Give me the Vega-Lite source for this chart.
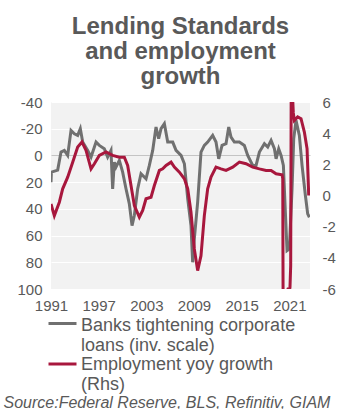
{
  "$schema": "https://vega.github.io/schema/vega-lite/v6.json",
  "width": 259,
  "height": 187,
  "autosize": {"type": "none"},
  "padding": {"left": 51, "top": 102, "right": 30, "bottom": 120},
  "background": "white",
  "config": {
    "view": {"fill": "#f2f2f2", "stroke": null},
    "font": "Liberation Sans",
    "legend": {
      "orient": "none",
      "legendX": -4,
      "title": null,
      "padding": 0,
      "symbolType": "stroke",
      "symbolSize": 784,
      "symbolStrokeWidth": 3,
      "labelFontSize": 18,
      "labelColor": "#595959",
      "labelLimit": 300,
      "labelOffset": 3
    }
  },
  "title": {
    "text": ["Lending Standards", "and employment", "growth"],
    "fontSize": 24,
    "font": "Liberation Sans",
    "fontWeight": "bold",
    "color": "#595959",
    "lineHeight": 25,
    "anchor": "middle",
    "offset": 6
  },
  "datasets": {
    "banks": [
      {"year": 1991.0, "value": 20, "series": "Banks tightening corporate loans (inv. scale)"},
      {"year": 1991.05, "value": 12.5, "series": "Banks tightening corporate loans (inv. scale)"},
      {"year": 1991.84, "value": 11, "series": "Banks tightening corporate loans (inv. scale)"},
      {"year": 1992.26, "value": -2.5, "series": "Banks tightening corporate loans (inv. scale)"},
      {"year": 1992.68, "value": -3.75, "series": "Banks tightening corporate loans (inv. scale)"},
      {"year": 1993.1, "value": 0, "series": "Banks tightening corporate loans (inv. scale)"},
      {"year": 1993.52, "value": -18.75, "series": "Banks tightening corporate loans (inv. scale)"},
      {"year": 1993.94, "value": -16.25, "series": "Banks tightening corporate loans (inv. scale)"},
      {"year": 1994.36, "value": -15, "series": "Banks tightening corporate loans (inv. scale)"},
      {"year": 1994.69, "value": -20, "series": "Banks tightening corporate loans (inv. scale)"},
      {"year": 1994.99, "value": -10, "series": "Banks tightening corporate loans (inv. scale)"},
      {"year": 1995.62, "value": -3.75, "series": "Banks tightening corporate loans (inv. scale)"},
      {"year": 1996.04, "value": 1.25, "series": "Banks tightening corporate loans (inv. scale)"},
      {"year": 1996.67, "value": -10, "series": "Banks tightening corporate loans (inv. scale)"},
      {"year": 1997.08, "value": -7.5, "series": "Banks tightening corporate loans (inv. scale)"},
      {"year": 1997.71, "value": -5, "series": "Banks tightening corporate loans (inv. scale)"},
      {"year": 1998.13, "value": 1.25, "series": "Banks tightening corporate loans (inv. scale)"},
      {"year": 1998.55, "value": -3.75, "series": "Banks tightening corporate loans (inv. scale)"},
      {"year": 1998.76, "value": 25, "series": "Banks tightening corporate loans (inv. scale)"},
      {"year": 1998.97, "value": 5, "series": "Banks tightening corporate loans (inv. scale)"},
      {"year": 1999.18, "value": 8.75, "series": "Banks tightening corporate loans (inv. scale)"},
      {"year": 1999.6, "value": 3.75, "series": "Banks tightening corporate loans (inv. scale)"},
      {"year": 2000.02, "value": 12.5, "series": "Banks tightening corporate loans (inv. scale)"},
      {"year": 2000.44, "value": 25, "series": "Banks tightening corporate loans (inv. scale)"},
      {"year": 2000.86, "value": 36.25, "series": "Banks tightening corporate loans (inv. scale)"},
      {"year": 2001.2, "value": 52.5, "series": "Banks tightening corporate loans (inv. scale)"},
      {"year": 2001.49, "value": 45, "series": "Banks tightening corporate loans (inv. scale)"},
      {"year": 2001.91, "value": 25, "series": "Banks tightening corporate loans (inv. scale)"},
      {"year": 2002.33, "value": 13.75, "series": "Banks tightening corporate loans (inv. scale)"},
      {"year": 2002.96, "value": 17.5, "series": "Banks tightening corporate loans (inv. scale)"},
      {"year": 2003.38, "value": 7.5, "series": "Banks tightening corporate loans (inv. scale)"},
      {"year": 2003.8, "value": -3.75, "series": "Banks tightening corporate loans (inv. scale)"},
      {"year": 2004.22, "value": -21.25, "series": "Banks tightening corporate loans (inv. scale)"},
      {"year": 2004.55, "value": -12.5, "series": "Banks tightening corporate loans (inv. scale)"},
      {"year": 2004.85, "value": -20, "series": "Banks tightening corporate loans (inv. scale)"},
      {"year": 2005.27, "value": -23.75, "series": "Banks tightening corporate loans (inv. scale)"},
      {"year": 2005.69, "value": -10, "series": "Banks tightening corporate loans (inv. scale)"},
      {"year": 2006.32, "value": -10, "series": "Banks tightening corporate loans (inv. scale)"},
      {"year": 2006.74, "value": -3.75, "series": "Banks tightening corporate loans (inv. scale)"},
      {"year": 2007.37, "value": 0, "series": "Banks tightening corporate loans (inv. scale)"},
      {"year": 2007.79, "value": 6.25, "series": "Banks tightening corporate loans (inv. scale)"},
      {"year": 2008.21, "value": 32.5, "series": "Banks tightening corporate loans (inv. scale)"},
      {"year": 2008.62, "value": 52.5, "series": "Banks tightening corporate loans (inv. scale)"},
      {"year": 2008.83, "value": 80, "series": "Banks tightening corporate loans (inv. scale)"},
      {"year": 2009.04, "value": 62.5, "series": "Banks tightening corporate loans (inv. scale)"},
      {"year": 2009.46, "value": 35, "series": "Banks tightening corporate loans (inv. scale)"},
      {"year": 2009.88, "value": -2.5, "series": "Banks tightening corporate loans (inv. scale)"},
      {"year": 2010.3, "value": -7.5, "series": "Banks tightening corporate loans (inv. scale)"},
      {"year": 2010.72, "value": -10, "series": "Banks tightening corporate loans (inv. scale)"},
      {"year": 2011.35, "value": -15, "series": "Banks tightening corporate loans (inv. scale)"},
      {"year": 2011.77, "value": -10, "series": "Banks tightening corporate loans (inv. scale)"},
      {"year": 2012.11, "value": 2.5, "series": "Banks tightening corporate loans (inv. scale)"},
      {"year": 2012.53, "value": -7.5, "series": "Banks tightening corporate loans (inv. scale)"},
      {"year": 2013.03, "value": -8.75, "series": "Banks tightening corporate loans (inv. scale)"},
      {"year": 2013.37, "value": -21.25, "series": "Banks tightening corporate loans (inv. scale)"},
      {"year": 2013.66, "value": -13.75, "series": "Banks tightening corporate loans (inv. scale)"},
      {"year": 2014.08, "value": -10, "series": "Banks tightening corporate loans (inv. scale)"},
      {"year": 2014.71, "value": -10, "series": "Banks tightening corporate loans (inv. scale)"},
      {"year": 2015.34, "value": -7.5, "series": "Banks tightening corporate loans (inv. scale)"},
      {"year": 2015.76, "value": 0, "series": "Banks tightening corporate loans (inv. scale)"},
      {"year": 2016.39, "value": 7.5, "series": "Banks tightening corporate loans (inv. scale)"},
      {"year": 2016.81, "value": 7.5, "series": "Banks tightening corporate loans (inv. scale)"},
      {"year": 2017.23, "value": -2.5, "series": "Banks tightening corporate loans (inv. scale)"},
      {"year": 2017.86, "value": -8.75, "series": "Banks tightening corporate loans (inv. scale)"},
      {"year": 2018.28, "value": -6.25, "series": "Banks tightening corporate loans (inv. scale)"},
      {"year": 2018.7, "value": -11.25, "series": "Banks tightening corporate loans (inv. scale)"},
      {"year": 2019.12, "value": -5, "series": "Banks tightening corporate loans (inv. scale)"},
      {"year": 2019.33, "value": 2.5, "series": "Banks tightening corporate loans (inv. scale)"},
      {"year": 2019.66, "value": -5, "series": "Banks tightening corporate loans (inv. scale)"},
      {"year": 2019.96, "value": 0, "series": "Banks tightening corporate loans (inv. scale)"},
      {"year": 2020.25, "value": 7.5, "series": "Banks tightening corporate loans (inv. scale)"},
      {"year": 2020.5, "value": 42.5, "series": "Banks tightening corporate loans (inv. scale)"},
      {"year": 2020.71, "value": 71.25, "series": "Banks tightening corporate loans (inv. scale)"},
      {"year": 2021.0, "value": 70, "series": "Banks tightening corporate loans (inv. scale)"},
      {"year": 2021.34, "value": 25, "series": "Banks tightening corporate loans (inv. scale)"},
      {"year": 2021.55, "value": -12.5, "series": "Banks tightening corporate loans (inv. scale)"},
      {"year": 2021.84, "value": -26.25, "series": "Banks tightening corporate loans (inv. scale)"},
      {"year": 2022.26, "value": -15, "series": "Banks tightening corporate loans (inv. scale)"},
      {"year": 2022.6, "value": 7.5, "series": "Banks tightening corporate loans (inv. scale)"},
      {"year": 2023.02, "value": 30, "series": "Banks tightening corporate loans (inv. scale)"},
      {"year": 2023.31, "value": 43.75, "series": "Banks tightening corporate loans (inv. scale)"},
      {"year": 2023.52, "value": 46.25, "series": "Banks tightening corporate loans (inv. scale)"}
    ],
    "emp": [
      {"year": 1991.0, "value": -0.54, "series": "Employment yoy growth (Rhs)"},
      {"year": 1991.42, "value": -1.29, "series": "Employment yoy growth (Rhs)"},
      {"year": 1992.05, "value": -0.43, "series": "Employment yoy growth (Rhs)"},
      {"year": 1992.47, "value": 0.43, "series": "Employment yoy growth (Rhs)"},
      {"year": 1993.1, "value": 1.18, "series": "Employment yoy growth (Rhs)"},
      {"year": 1993.73, "value": 2.14, "series": "Employment yoy growth (Rhs)"},
      {"year": 1994.36, "value": 3.11, "series": "Employment yoy growth (Rhs)"},
      {"year": 1994.9, "value": 3.43, "series": "Employment yoy growth (Rhs)"},
      {"year": 1995.41, "value": 2.89, "series": "Employment yoy growth (Rhs)"},
      {"year": 1996.04, "value": 1.71, "series": "Employment yoy growth (Rhs)"},
      {"year": 1996.46, "value": 2.04, "series": "Employment yoy growth (Rhs)"},
      {"year": 1997.08, "value": 2.57, "series": "Employment yoy growth (Rhs)"},
      {"year": 1997.92, "value": 2.79, "series": "Employment yoy growth (Rhs)"},
      {"year": 1998.76, "value": 2.57, "series": "Employment yoy growth (Rhs)"},
      {"year": 1999.6, "value": 2.46, "series": "Employment yoy growth (Rhs)"},
      {"year": 2000.23, "value": 2.46, "series": "Employment yoy growth (Rhs)"},
      {"year": 2000.65, "value": 1.93, "series": "Employment yoy growth (Rhs)"},
      {"year": 2001.07, "value": 0.64, "series": "Employment yoy growth (Rhs)"},
      {"year": 2001.49, "value": -0.64, "series": "Employment yoy growth (Rhs)"},
      {"year": 2002.12, "value": -1.39, "series": "Employment yoy growth (Rhs)"},
      {"year": 2002.54, "value": -0.96, "series": "Employment yoy growth (Rhs)"},
      {"year": 2002.96, "value": -0.21, "series": "Employment yoy growth (Rhs)"},
      {"year": 2003.59, "value": -0.11, "series": "Employment yoy growth (Rhs)"},
      {"year": 2004.01, "value": 0.64, "series": "Employment yoy growth (Rhs)"},
      {"year": 2004.64, "value": 1.61, "series": "Employment yoy growth (Rhs)"},
      {"year": 2005.06, "value": 1.71, "series": "Employment yoy growth (Rhs)"},
      {"year": 2005.48, "value": 1.93, "series": "Employment yoy growth (Rhs)"},
      {"year": 2006.11, "value": 2.14, "series": "Employment yoy growth (Rhs)"},
      {"year": 2006.53, "value": 1.82, "series": "Employment yoy growth (Rhs)"},
      {"year": 2007.16, "value": 1.5, "series": "Employment yoy growth (Rhs)"},
      {"year": 2007.79, "value": 1.07, "series": "Employment yoy growth (Rhs)"},
      {"year": 2008.21, "value": 0.43, "series": "Employment yoy growth (Rhs)"},
      {"year": 2008.62, "value": -1.07, "series": "Employment yoy growth (Rhs)"},
      {"year": 2009.04, "value": -3.43, "series": "Employment yoy growth (Rhs)"},
      {"year": 2009.46, "value": -4.82, "series": "Employment yoy growth (Rhs)"},
      {"year": 2009.88, "value": -3.86, "series": "Employment yoy growth (Rhs)"},
      {"year": 2010.3, "value": -1.29, "series": "Employment yoy growth (Rhs)"},
      {"year": 2010.72, "value": 0.43, "series": "Employment yoy growth (Rhs)"},
      {"year": 2011.14, "value": 1.18, "series": "Employment yoy growth (Rhs)"},
      {"year": 2011.77, "value": 1.82, "series": "Employment yoy growth (Rhs)"},
      {"year": 2012.4, "value": 1.71, "series": "Employment yoy growth (Rhs)"},
      {"year": 2013.03, "value": 1.61, "series": "Employment yoy growth (Rhs)"},
      {"year": 2013.87, "value": 1.82, "series": "Employment yoy growth (Rhs)"},
      {"year": 2014.71, "value": 2.14, "series": "Employment yoy growth (Rhs)"},
      {"year": 2015.55, "value": 2.04, "series": "Employment yoy growth (Rhs)"},
      {"year": 2016.39, "value": 1.82, "series": "Employment yoy growth (Rhs)"},
      {"year": 2017.23, "value": 1.71, "series": "Employment yoy growth (Rhs)"},
      {"year": 2018.07, "value": 1.61, "series": "Employment yoy growth (Rhs)"},
      {"year": 2018.7, "value": 1.61, "series": "Employment yoy growth (Rhs)"},
      {"year": 2019.33, "value": 1.39, "series": "Employment yoy growth (Rhs)"},
      {"year": 2020.08, "value": 1.33, "series": "Employment yoy growth (Rhs)"},
      {"year": 2020.17, "value": 1.1, "series": "Employment yoy growth (Rhs)"},
      {"year": 2020.25, "value": -13.0, "series": "Employment yoy growth (Rhs)"},
      {"year": 2020.33, "value": -11.8, "series": "Employment yoy growth (Rhs)"},
      {"year": 2020.42, "value": -9.4, "series": "Employment yoy growth (Rhs)"},
      {"year": 2020.5, "value": -8.0, "series": "Employment yoy growth (Rhs)"},
      {"year": 2020.58, "value": -7.0, "series": "Employment yoy growth (Rhs)"},
      {"year": 2020.67, "value": -6.4, "series": "Employment yoy growth (Rhs)"},
      {"year": 2020.75, "value": -6.1, "series": "Employment yoy growth (Rhs)"},
      {"year": 2020.83, "value": -6.0, "series": "Employment yoy growth (Rhs)"},
      {"year": 2020.92, "value": -6.0, "series": "Employment yoy growth (Rhs)"},
      {"year": 2021.0, "value": -6.1, "series": "Employment yoy growth (Rhs)"},
      {"year": 2021.08, "value": -5.9, "series": "Employment yoy growth (Rhs)"},
      {"year": 2021.17, "value": -4.5, "series": "Employment yoy growth (Rhs)"},
      {"year": 2021.25, "value": 10.0, "series": "Employment yoy growth (Rhs)"},
      {"year": 2021.33, "value": 9.0, "series": "Employment yoy growth (Rhs)"},
      {"year": 2021.42, "value": 6.2, "series": "Employment yoy growth (Rhs)"},
      {"year": 2021.5, "value": 5.3, "series": "Employment yoy growth (Rhs)"},
      {"year": 2021.63, "value": 4.82, "series": "Employment yoy growth (Rhs)"},
      {"year": 2022.05, "value": 5.04, "series": "Employment yoy growth (Rhs)"},
      {"year": 2022.47, "value": 4.93, "series": "Employment yoy growth (Rhs)"},
      {"year": 2022.89, "value": 4.07, "series": "Employment yoy growth (Rhs)"},
      {"year": 2023.23, "value": 3.0, "series": "Employment yoy growth (Rhs)"},
      {"year": 2023.44, "value": 0.0, "series": "Employment yoy growth (Rhs)"}
    ]
  },
  "encoding": {
    "x": {
      "field": "year",
      "type": "quantitative",
      "scale": {"domain": [1991, 2023.6], "nice": false, "zero": false},
      "axis": {
        "values": [1991, 1997, 2003, 2009, 2015, 2021],
        "format": "d",
        "grid": false,
        "ticks": false,
        "domain": false,
        "labelFontSize": 15,
        "labelColor": "#595959",
        "labelPadding": 9,
        "labelFlush": false,
        "title": "Source:Federal Reserve, BLS, Refinitiv, GIAM",
        "titleFontStyle": "italic",
        "titleFontWeight": "normal",
        "titleFontSize": 16,
        "titleColor": "#595959",
        "titleAnchor": "start",
        "titleAlign": "left",
        "titleBaseline": "alphabetic",
        "titleX": -48,
        "titleY": 118
      }
    }
  },
  "layer": [
    {
      "data": {"name": "banks"},
      "mark": {"type": "line", "strokeWidth": 3, "clip": true},
      "encoding": {
        "y": {
          "field": "value",
          "type": "quantitative",
          "scale": {"domain": [-40, 100], "reverse": true, "nice": false, "zero": false},
          "axis": {
            "values": [-40, -20, 0, 20, 40, 60, 80, 100],
            "labelExpr": "'' + datum.value",
            "title": null,
            "ticks": false,
            "domain": false,
            "labelFontSize": 15,
            "labelColor": "#595959",
            "labelPadding": 9,
            "labelFlush": false,
            "gridColor": {"condition": {"test": "datum.value === 0", "value": "#c4c4c4"}, "value": "#ffffff"},
            "gridWidth": 1
          }
        },
        "color": {
          "field": "series",
          "type": "nominal",
          "scale": {"domain": ["Banks tightening corporate loans (inv. scale)"], "range": ["#707070"]},
          "legend": {
            "legendY": 206,
            "labelExpr": "['Banks tightening corporate', 'loans (inv. scale)']",
            "encode": {"labels": {"update": {"dy": {"value": 2}, "lineHeight": {"value": 20.5}}}}
          }
        }
      }
    },
    {
      "data": {"name": "emp"},
      "mark": {"type": "line", "strokeWidth": 3, "clip": true},
      "encoding": {
        "y": {
          "field": "value",
          "type": "quantitative",
          "scale": {"domain": [-6, 6], "nice": false, "zero": false},
          "axis": {
            "orient": "right",
            "values": [-6, -4, -2, 0, 2, 4, 6],
            "labelExpr": "'' + datum.value",
            "title": null,
            "grid": false,
            "ticks": false,
            "domain": false,
            "labelFontSize": 15,
            "labelColor": "#595959",
            "labelPadding": 12,
            "labelFlush": false
          }
        },
        "color": {
          "field": "series",
          "type": "nominal",
          "scale": {"domain": ["Employment yoy growth (Rhs)"], "range": ["#a8173d"]},
          "legend": {
            "legendY": 246.5,
            "labelExpr": "['Employment yoy growth', '(Rhs)']",
            "encode": {"labels": {"update": {"dy": {"value": 1}, "lineHeight": {"value": 20}}}}
          }
        }
      }
    }
  ],
  "resolve": {"scale": {"y": "independent", "color": "independent"}, "legend": {"color": "independent"}}
}
